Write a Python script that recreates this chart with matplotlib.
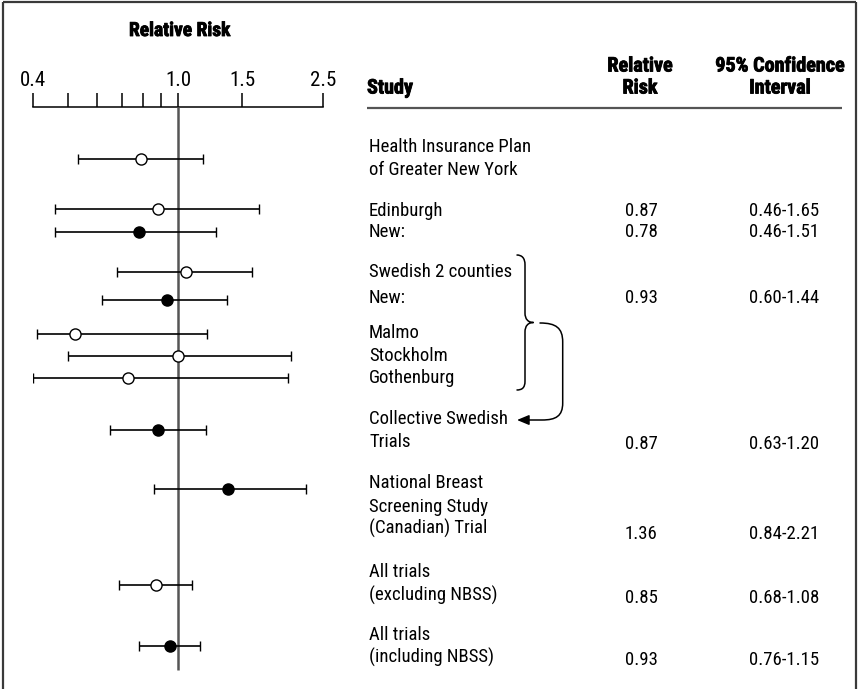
import matplotlib
matplotlib.use("Agg")
import matplotlib.pyplot as plt
import matplotlib.patheffects as pe
from matplotlib.path import Path
from matplotlib.patches import PathPatch, FancyArrowPatch

BODY_FONT = ['Roboto Condensed', 'Archivo Narrow', 'Liberation Sans', 'DejaVu Sans']
HEAD_FONT = ['Roboto Condensed', 'Barlow Condensed', 'Liberation Sans', 'DejaVu Sans']
plt.rcParams['font.family'] = BODY_FONT

# === DATOS ===
rr = [0.79, 0.88, 0.78, 1.05, 0.93, 0.52, 1.00, 0.73, 0.88, 1.37, 0.87, 0.95]
lo = [0.53, 0.46, 0.46, 0.68, 0.62, 0.41, 0.50, 0.40, 0.65, 0.86, 0.69, 0.78]
hi = [1.17, 1.67, 1.27, 1.60, 1.36, 1.20, 2.04, 2.01, 1.19, 2.24, 1.09, 1.15]
filled = [False, False, True, False, True, False, False, False, True, True, False, True]

tick_vals = [0.4, 0.5, 0.6, 0.7, 0.8, 0.9, 1.0, 1.5, 2.5]
tick_labels = {0.4: "0.4", 1.0: "1.0", 1.5: "1.5", 2.5: "2.5"}

study_lines = ["Health Insurance Plan", "of Greater New York",
               "Edinburgh", "New:",
               "Swedish 2 counties", "New:",
               "Malmo", "Stockholm", "Gothenburg",
               "Collective Swedish", "Trials",
               "National Breast", "Screening Study", "(Canadian) Trial",
               "All trials", "(excluding NBSS)",
               "All trials", "(including NBSS)"]
rr_text = ["0.87", "0.78", "0.93", "0.87", "1.36", "0.85", "0.93"]
ci_text = ["0.46-1.65", "0.46-1.51", "0.60-1.44", "0.63-1.20",
           "0.84-2.21", "0.68-1.08", "0.76-1.15"]

# === LAYOUT (pixeles de la imagen, y hacia abajo) ===
W, H = 860, 689
row_y = [158.7, 209, 231.7, 271.7, 299.7, 334.3, 355.7, 378.3, 430.3, 489, 585, 646.3]
study_y = [147.3, 170, 210.7, 231.7, 272.3, 297.7, 333.3, 355.7, 378.3,
           419.3, 442.3, 483.3, 506.7, 528.3, 572.3, 595, 635, 657.3]
value_y = [210.7, 231.7, 297.7, 444.3, 534.3, 598.3, 660]
axis_y = 107.3

fig = plt.figure(figsize=(W / 100, H / 100), dpi=100)

# capa de fondo en coordenadas de pixel (tabla, marco, llaves)
ax_t = fig.add_axes([0, 0, 1, 1])
ax_t.set_xlim(0, W)
ax_t.set_ylim(H, 0)
ax_t.axis('off')

# forest plot con escala log
ax = fig.add_axes([33 / W, 0, 290 / W, 1])
ax.set_xscale('log')
ax.set_xlim(0.4, 2.5)
ax.set_ylim(H, 0)
ax.axis('off')
ax.patch.set_visible(False)

# marco
frame = dict(color='#3a3a3a', lw=1.6, solid_capstyle='butt')
ax_t.plot([3, 3], [2, H], **frame)
ax_t.plot([3, 856], [2, 2], **frame)
ax_t.plot([856, 856], [2, H], **frame)

# negrita extra para los encabezados
heavy = [pe.withStroke(linewidth=0.6, foreground='black')]

# eje superior
ax.plot([0.4, 2.5], [axis_y, axis_y], color='black', lw=1.1, clip_on=False)
ax.vlines(tick_vals, axis_y, axis_y - 14, color='black', lw=1.1, clip_on=False)
for v, lab in tick_labels.items():
    ax.text(v, 81, lab, ha='center', va='center', fontsize=15, clip_on=False)
ax_t.text(180, 31, "Relative Risk", ha='center', va='center',
          fontsize=14, fontweight='bold', family=HEAD_FONT, path_effects=heavy)

# linea de referencia
ax.vlines(1.0, axis_y, 670, color='#555555', lw=1.8)

# intervalos
for y, r, l, h, f in zip(row_y, rr, lo, hi, filled):
    ax.errorbar([r], [y], xerr=[[r - l], [h - r]], fmt='o', ms=8,
                mfc='black' if f else 'white', mec='black', mew=1.0,
                ecolor='black', elinewidth=1.2, capsize=3.8, capthick=1.2,
                zorder=3)

# encabezados de la tabla
head = dict(fontsize=14.5, fontweight='bold', family=HEAD_FONT, va='center',
            path_effects=heavy)
ax_t.text(367, 88, "Study", ha='left', **head)
ax_t.text(640, 66, "Relative", ha='center', **head)
ax_t.text(640, 88, "Risk", ha='center', **head)
ax_t.text(780, 66, "95% Confidence", ha='center', **head)
ax_t.text(780, 88, "Interval", ha='center', **head)
ax_t.plot([367, 842], [107.7, 107.7], color='#555555', lw=1.6, solid_capstyle='butt')

for s, y in zip(study_lines, study_y):
    ax_t.text(369, y, s, ha='left', va='center', fontsize=13.5)
for a, b, y in zip(rr_text, ci_text, value_y):
    ax_t.text(641, y, a, ha='center', va='center', fontsize=13.5)
    ax_t.text(784, y, b, ha='center', va='center', fontsize=13.5)

# llave de los ensayos suecos
brace = Path(
    [(516.5, 255), (522, 255), (525, 258), (525, 265),
     (525, 313),
     (525, 319), (528, 322.5), (533.5, 322.5),
     (528, 322.5), (525, 326), (525, 332),
     (525, 381),
     (525, 388), (522, 390), (516.5, 390)],
    [Path.MOVETO, Path.CURVE4, Path.CURVE4, Path.CURVE4,
     Path.LINETO,
     Path.CURVE4, Path.CURVE4, Path.CURVE4,
     Path.CURVE4, Path.CURVE4, Path.CURVE4,
     Path.LINETO,
     Path.CURVE4, Path.CURVE4, Path.CURVE4])
ax_t.add_patch(PathPatch(brace, fill=False, ec='black', lw=1.1))

arrow = Path(
    [(540, 323), (556, 323), (562.7, 328), (562.7, 342),
     (562.7, 403),
     (562.7, 416), (556, 420), (542, 420),
     (517, 420)],
    [Path.MOVETO, Path.CURVE4, Path.CURVE4, Path.CURVE4,
     Path.LINETO,
     Path.CURVE4, Path.CURVE4, Path.CURVE4,
     Path.LINETO])
ax_t.add_patch(FancyArrowPatch(path=arrow, arrowstyle='-|>,head_length=0.6,head_width=0.25',
                               mutation_scale=12, color='black', lw=1.1))

fig.savefig("out.png", dpi=100)
